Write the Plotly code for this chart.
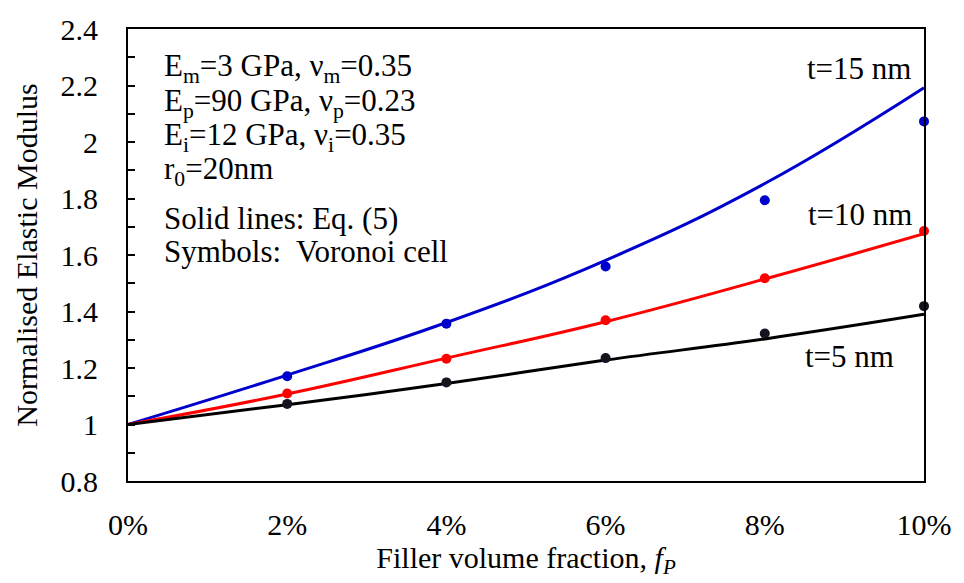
import plotly.graph_objects as go

# Data
fp_line = [0.0, 0.02, 0.04, 0.06, 0.08, 0.10]
eq5_t15 = [1.00, 1.175, 1.361, 1.581, 1.853, 2.192]
eq5_t10 = [1.00, 1.108, 1.235, 1.364, 1.515, 1.675]
eq5_t5 = [1.00, 1.070, 1.145, 1.228, 1.303, 1.390]

fp_sym = [0.02, 0.04, 0.06, 0.08, 0.10]
vor_t15 = [1.171, 1.357, 1.559, 1.794, 2.073]
vor_t10 = [1.110, 1.233, 1.369, 1.518, 1.685]
vor_t5 = [1.073, 1.149, 1.235, 1.322, 1.419]

series_names = ["t=15 nm", "t=10 nm", "t=5 nm"]
colors = ["#0000CC", "#FF0000", "#000000"]
sym_colors = ["#0000CC", "#FF0000", "#15131f"]

FONT = "Times New Roman, Liberation Serif, serif"
FS = 30
FA = 31

fig = go.Figure()
for name, ys, c in zip(series_names, [eq5_t15, eq5_t10, eq5_t5], colors):
    fig.add_trace(go.Scatter(x=fp_line, y=ys, mode="lines", name=name + " Eq.(5)",
                             line=dict(color=c, width=3, shape="spline", smoothing=1.2),
                             showlegend=False))
for name, ys, c in zip(series_names, [vor_t15, vor_t10, vor_t5], sym_colors):
    fig.add_trace(go.Scatter(x=fp_sym, y=ys, mode="markers", name=name + " Voronoi",
                             marker=dict(color=c, size=10, line=dict(width=0)),
                             showlegend=False, cliponaxis=False))

x0, x1, y0, y1 = 128, 934, 22, 481
W, H = 964, 583

def px(xp):
    return (xp - x0) / (x1 - x0)

def py(yp):
    return (y1 - yp) / (y1 - y0)

ann = []
text_lines = [
    ("E<sub>m</sub>=3 GPa, ν<sub>m</sub>=0.35", 62),
    ("E<sub>p</sub>=90 GPa, ν<sub>p</sub>=0.23", 97),
    ("E<sub>i</sub>=12 GPa, ν<sub>i</sub>=0.35", 132),
    ("r<sub>0</sub>=20nm", 166),
    ("Solid lines: Eq. (5)", 214),
    ("Symbols:  Voronoi cell", 248),
]
for t, yy in text_lines:
    ann.append(dict(text=t, x=px(162), y=py(yy), xref="paper", yref="paper",
                    xanchor="left", yanchor="middle", showarrow=False,
                    font=dict(family=FONT, size=FA, color="black")))

for t, xx, yy in [("t=15 nm", 923, 62), ("t=10 nm", 924, 210), ("t=5 nm", 906, 355)]:
    ann.append(dict(text=t, x=px(xx), y=py(yy), xref="paper", yref="paper",
                    xanchor="right", yanchor="middle", showarrow=False,
                    font=dict(family=FONT, size=FA, color="black")))

fig.update_layout(
    width=W, height=H,
    margin=dict(l=x0, r=W - x1, t=y0, b=H - y1),
    paper_bgcolor="white", plot_bgcolor="white",
    font=dict(family=FONT, size=FS, color="black"),
    annotations=ann,
)
fig.update_xaxes(range=[0, 0.10], dtick=0.02, tick0=0, tickformat=".0%",
                 showgrid=False, zeroline=False, showline=True, mirror=True,
                 linecolor="black", linewidth=2, ticks="", ticklabelstandoff=16,
                 title=dict(text="Filler volume fraction, <i>f<sub>P</sub></i>",
                            font=dict(family=FONT, size=FS), standoff=7),
                 tickfont=dict(family=FONT, size=FS))
fig.update_yaxes(range=[0.8, 2.4], dtick=0.2, tick0=0.8,
                 showgrid=False, zeroline=False, showline=True, mirror=True,
                 linecolor="black", linewidth=2, ticks="inside", ticklen=7,
                 tickwidth=2, tickcolor="black",
                 minor=dict(dtick=0.1, ticks="inside", ticklen=7, tickwidth=2, tickcolor="black"),
                 title=dict(text="Normalised Elastic Modulus",
                            font=dict(family=FONT, size=FS), standoff=14),
                 ticklabelstandoff=22,
                 tickfont=dict(family=FONT, size=FS))

fig.write_html("out.html")
